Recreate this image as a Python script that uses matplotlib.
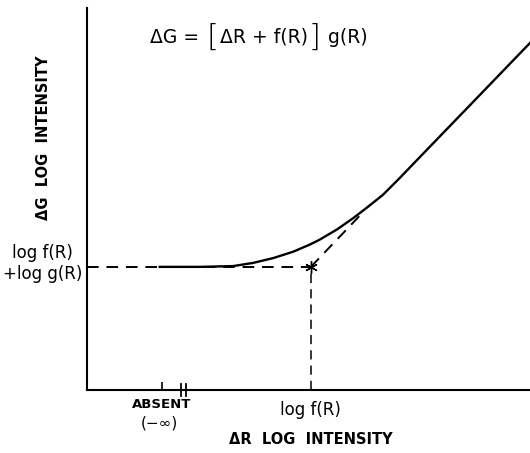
import matplotlib.pyplot as plt
from matplotlib.offsetbox import TextArea, HPacker, AnchoredOffsetbox

# curva de ΔG frente a ΔR (unidades de log intensidad)
curve_x = [0.91, 1.41, 1.83, 2.08, 2.33, 2.58, 2.79, 2.91, 3.13, 3.33, 3.50,
           3.70, 3.91, 4.16, 4.73, 5.54]
curve_y = [1.54, 1.54, 1.55, 1.59, 1.65, 1.73, 1.82, 1.88, 2.01, 2.15, 2.28,
           2.44, 2.65, 2.91, 3.50, 4.34]

# punto de corte: log f(R) y log f(R) + log g(R)
log_f = 2.80
level = 1.54
asym_end = [3.44, 2.21]
absent_x = 0.94
break_x = [1.175, 1.24]

fig = plt.figure(figsize=(5.3, 4.53), dpi=100)
ax = fig.add_axes([0.164, 0.139, 0.836, 0.843])
ax.set_xlim(0, 5.54)
ax.set_ylim(0, 4.775)

for s in ['top', 'right']:
    ax.spines[s].set_visible(False)
for s in ['left', 'bottom']:
    ax.spines[s].set_linewidth(1.5)

ax.set_xticks([absent_x])
ax.set_xticklabels([])
ax.set_yticks([])
ax.tick_params(axis='x', direction='in', length=6, width=1.2)

# curva
ax.plot(curve_x, curve_y, color='black', lw=1.7, solid_joinstyle='round')

# líneas discontinuas
ax.plot([0, log_f], [level, level], color='black', lw=1.4, ls=(0, (6, 4)))
ax.plot([log_f, log_f], [0, level], color='black', lw=1.1, ls=(0, (6, 4)))
ax.plot([log_f, asym_end[0]], [level, asym_end[1]], color='black', lw=1.4, ls=(0, (6, 4)))
ax.plot([log_f], [level], marker=(6, 2, 0), color='black', ms=9, mew=1.0)

# marca de ruptura en el eje x
for bx in break_x:
    ax.plot([bx, bx], [-0.07, 0.07], color='black', lw=1.3, clip_on=False)

# ecuación con corchetes grandes
small = dict(fontsize=13.5)
big = dict(fontsize=22, fontweight='light')
parts = [TextArea('ΔG = ', textprops=small),
         TextArea('[', textprops=big),
         TextArea('ΔR + f(R)', textprops=small),
         TextArea(']', textprops=big),
         TextArea(' g(R)', textprops=small)]
eq = HPacker(children=parts, align='center', pad=0, sep=1)
box = AnchoredOffsetbox(loc='center', child=eq, frameon=False,
                        bbox_to_anchor=(2.15, 4.41), bbox_transform=ax.transData,
                        borderpad=0, pad=0)
ax.add_artist(box)

fs = 10.5
ax.text(-0.54, 3.15, 'ΔG  LOG  INTENSITY', rotation=90, ha='center', va='center',
        fontsize=fs, fontweight='bold')
ax.text(2.8, -0.62, 'ΔR  LOG  INTENSITY', ha='center', va='center',
        fontsize=fs, fontweight='bold')
ax.text(absent_x, -0.175, 'ABSENT', ha='center', va='center', fontsize=9.5, fontweight='bold')
ax.text(absent_x - 0.03, -0.41, '(−∞)', ha='center', va='center', fontsize=11)
ax.text(log_f, -0.25, 'log f(R)', ha='center', va='center', fontsize=12)
ax.text(-0.56, level + 0.17, 'log f(R)', ha='center', va='center', fontsize=12)
ax.text(-0.55, level - 0.09, '+log g(R)', ha='center', va='center', fontsize=12)

fig.savefig('out.png', dpi=100)
